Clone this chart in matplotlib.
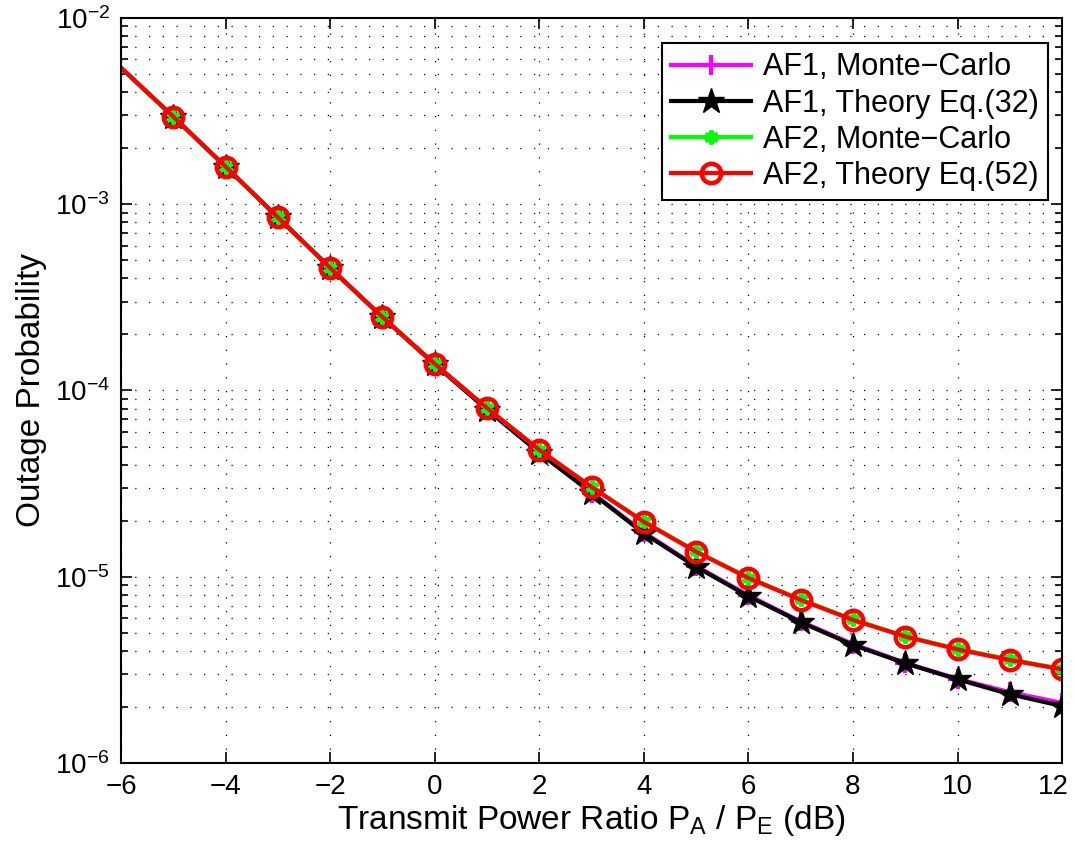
import numpy as np
import matplotlib
matplotlib.use("Agg")
import matplotlib.pyplot as plt
import matplotlib.transforms as mtransforms
from matplotlib.ticker import LogLocator, NullFormatter

plt.rcParams['font.family'] = ['Liberation Sans', 'DejaVu Sans']
plt.rcParams['mathtext.fontset'] = 'custom'
plt.rcParams['mathtext.rm'] = 'Liberation Sans'
plt.rcParams['mathtext.it'] = 'Liberation Sans:italic'
plt.rcParams['mathtext.bf'] = 'Liberation Sans:bold'

# transmit power ratio (dB)
snr_db = [-6, -5, -4, -3, -2, -1, 0, 1, 2, 3, 4, 5, 6, 7, 8, 9, 10, 11, 12]

# outage probabilities
af1_mc = [5.4e-3, 2.95e-3, 1.59e-3, 8.5e-4, 4.55e-4, 2.47e-4, 1.38e-4, 7.9e-5,
          4.65e-5, 2.83e-5, 1.73e-5, 1.14e-5, 7.95e-6, 5.75e-6, 4.35e-6,
          3.45e-6, 2.83e-6, 2.40e-6, 2.10e-6]
af1_th = [5.4e-3, 2.95e-3, 1.59e-3, 8.5e-4, 4.55e-4, 2.47e-4, 1.38e-4, 7.9e-5,
          4.62e-5, 2.82e-5, 1.71e-5, 1.13e-5, 7.85e-6, 5.70e-6, 4.30e-6,
          3.43e-6, 2.81e-6, 2.34e-6, 2.02e-6]
af2_mc = [5.4e-3, 2.95e-3, 1.59e-3, 8.5e-4, 4.55e-4, 2.48e-4, 1.39e-4, 8.05e-5,
          4.80e-5, 3.04e-5, 1.98e-5, 1.37e-5, 9.9e-6, 7.55e-6, 5.90e-6,
          4.80e-6, 4.10e-6, 3.60e-6, 3.20e-6]
af2_th = [5.4e-3, 2.95e-3, 1.59e-3, 8.5e-4, 4.55e-4, 2.48e-4, 1.39e-4, 8.05e-5,
          4.80e-5, 3.03e-5, 1.97e-5, 1.36e-5, 9.84e-6, 7.50e-6, 5.86e-6,
          4.77e-6, 4.07e-6, 3.57e-6, 3.18e-6]

labels = ['AF1, Monte\u2212Carlo', 'AF1, Theory Eq.(32)',
          'AF2, Monte\u2212Carlo', 'AF2, Theory Eq.(52)']

fig = plt.figure(figsize=(10.75, 8.59), dpi=100)
ax = fig.add_axes([0.1126, 0.1118, 0.8754, 0.8673])

mk = slice(1, None)
ax.semilogy(snr_db, af1_mc, color='magenta', lw=3, marker='+', ms=14, mew=3,
            markevery=mk, label=labels[0])
ax.semilogy(snr_db, af1_th, color='black', lw=3, marker='*', ms=19,
            markevery=mk, label=labels[1])
ax.semilogy(snr_db, af2_mc, color='#00ff00', lw=3, marker=(6, 2, 0), ms=10, mew=3,
            markevery=mk, label=labels[2])
ax.semilogy(snr_db, af2_th, color='red', lw=3, marker='o', ms=14, mew=3.2,
            mfc='none', markevery=mk, label=labels[3])

ax.set_xlim(-6, 12)
ax.set_ylim(1e-6, 1e-2)
ax.set_xticks(np.arange(-6, 13, 2))
ax.set_xticklabels([str(v).replace('-', '\u2212') for v in range(-6, 13, 2)])
ax.yaxis.set_major_locator(LogLocator(base=10, numticks=10))
ax.yaxis.set_minor_locator(LogLocator(base=10, subs=np.arange(2, 10), numticks=20))
ax.yaxis.set_minor_formatter(NullFormatter())

dots = (0, (1, 10))
ax.grid(True, which='major', axis='both', color='black', lw=0.9, linestyle=dots)
ax.grid(True, which='minor', axis='y', color='black', lw=0.9, linestyle=dots)

ax.tick_params(which='both', direction='in', top=True, right=True,
               labelsize=20, width=1.2)
ax.tick_params(which='major', length=8, pad=8)
ax.tick_params(which='minor', length=5)
for sp in ax.spines.values():
    sp.set_linewidth(1.5)

# keep the last x tick label inside the figure, as in the original
last = ax.get_xticklabels()[-1]
last.set_transform(last.get_transform() +
                   mtransforms.ScaledTranslation(-9 / 100, 0, fig.dpi_scale_trans))

ax.set_xlabel(r'Transmit Power Ratio P$_{\rm A}$ / P$_{\rm E}$ (dB)', fontsize=24, labelpad=2)
ax.set_ylabel('Outage Probability', fontsize=24, labelpad=6)

leg = ax.legend(loc='upper right', bbox_to_anchor=(0.985, 0.966), fontsize=22,
                fancybox=False, framealpha=1, edgecolor='black', borderpad=0.3,
                handlelength=2.6, labelspacing=0.2, handletextpad=0.4,
                borderaxespad=0)
leg.get_frame().set_linewidth(1.5)

fig.savefig('out.png', dpi=100)
